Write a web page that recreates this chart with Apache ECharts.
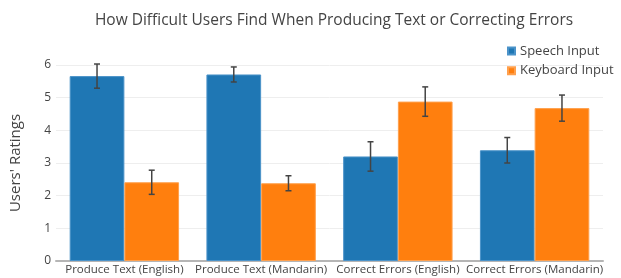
<!DOCTYPE html>
<html>
<head>
<meta charset="utf-8">
<script src="https://cdn.jsdelivr.net/npm/echarts@6/dist/echarts.min.js"></script>
<style>html,body{margin:0;padding:0;background:#fff;}#c{width:621px;height:278px;}</style>
</head>
<body>
<div id="c"></div>
<script>
const categories = ["Produce Text (English)", "Produce Text (Mandarin)", "Correct Errors (English)", "Correct Errors (Mandarin)"];
const speechValues = [5.66, 5.71, 3.2, 3.39];
const speechErrors = [0.37, 0.23, 0.45, 0.39];
const keyboardValues = [2.41, 2.38, 4.88, 4.68];
const keyboardErrors = [0.37, 0.23, 0.45, 0.40];
const yTicks = [0, 1, 2, 3, 4, 5, 6];
const seriesNames = ["Speech Input", "Keyboard Input"];

const FONT = '"Open Sans", "Noto Sans", sans-serif';
const chart = echarts.init(document.getElementById('c'), null, {renderer: 'canvas'});

function errData(vals, errs) {
  return vals.map((v, i) => [i, v - errs[i], v + errs[i]]);
}
function errSeries(name, vals, errs, sign) {
  return {
    type: 'custom',
    name: name + ' err',
    z: 10,
    silent: true,
    renderItem: function (params, api) {
      const idx = api.value(0);
      const lo = api.coord([idx, api.value(1)]);
      const hi = api.coord([idx, api.value(2)]);
      const band = api.size([1, 0])[0];
      const bw = band * 0.8 / 2;
      const x = lo[0] + sign * bw / 2;
      const cap = 3;
      const st = {stroke: '#444', lineWidth: 1.5, fill: null};
      return {
        type: 'group',
        children: [
          {type: 'line', shape: {x1: x, y1: lo[1], x2: x, y2: hi[1]}, style: st},
          {type: 'line', shape: {x1: x - cap, y1: hi[1], x2: x + cap, y2: hi[1]}, style: st},
          {type: 'line', shape: {x1: x - cap, y1: lo[1], x2: x + cap, y2: lo[1]}, style: st}
        ]
      };
    },
    encode: {x: 0, y: [1, 2]},
    data: errData(vals, errs)
  };
}

chart.setOption({
  animation: false,
  color: ['#1f77b4', '#ff7f0e'],
  title: {
    text: 'How Difficult Users Find When Producing Text or Correcting Errors',
    left: 329,
    textAlign: 'center',
    top: 8,
    textStyle: {fontFamily: FONT, fontSize: 15.5, fontWeight: 'normal', color: '#444'}
  },
  legend: {
    data: seriesNames,
    orient: 'vertical',
    left: 502,
    top: 39,
    icon: 'rect',
    itemWidth: 7,
    itemHeight: 7,
    itemGap: 5.7,
    textStyle: {fontFamily: FONT, fontSize: 13, color: '#444', lineHeight: 14}
  },
  grid: {left: 54, right: 18, top: 65, bottom: 17, containLabel: false},
  xAxis: {
    type: 'category',
    data: categories,
    axisLine: {show: true, lineStyle: {color: '#b5b5b5', width: 2}},
    axisTick: {show: false},
    axisLabel: {interval: 0, margin: 3, fontFamily: FONT, fontSize: 11.5, color: '#444'}
  },
  yAxis: {
    type: 'value',
    min: 0,
    max: 6,
    interval: 1,
    name: "Users' Ratings",
    nameLocation: 'middle',
    nameRotate: 90,
    nameGap: 33,
    nameTextStyle: {fontFamily: FONT, fontSize: 15, color: '#444'},
    axisLine: {show: false},
    axisTick: {show: false},
    axisLabel: {margin: 5, fontFamily: FONT, fontSize: 12, color: '#444',
      formatter: v => (yTicks.indexOf(v) >= 0 ? String(v) : '')},
    splitLine: {show: true, lineStyle: {color: '#eeeeee', width: 1}}
  },
  series: [
    {type: 'bar', name: seriesNames[0], data: speechValues, barGap: '0%', barCategoryGap: '20%',
      itemStyle: {color: '#1f77b4', borderColor: '#4b93c9', borderWidth: 1}},
    {type: 'bar', name: seriesNames[1], data: keyboardValues, barGap: '0%', barCategoryGap: '20%',
      itemStyle: {color: '#ff7f0e', borderColor: '#ffa04d', borderWidth: 1}},
    errSeries(seriesNames[0], speechValues, speechErrors, -1),
    errSeries(seriesNames[1], keyboardValues, keyboardErrors, 1)
  ]
});
</script>
</body>
</html>
